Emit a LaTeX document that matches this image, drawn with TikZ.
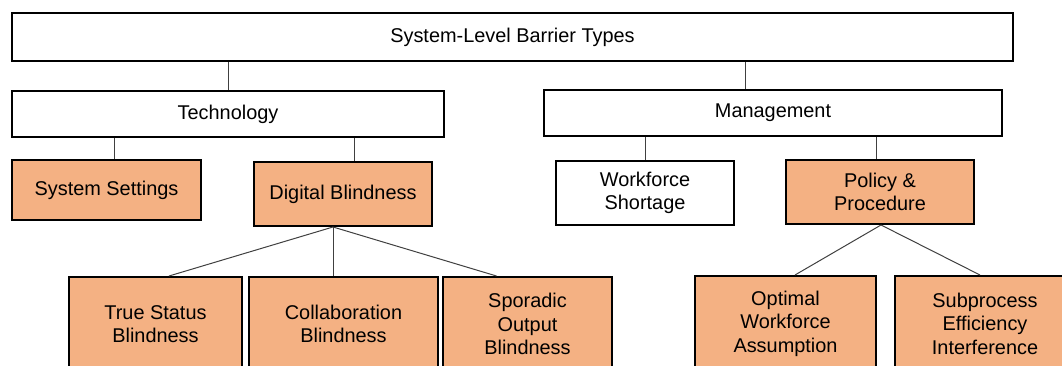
\documentclass[tikz,border=0pt]{standalone}
\usepackage{fontspec}
\setmainfont{Liberation Sans}
\definecolor{peach}{HTML}{F4B183}
\definecolor{linkgray}{HTML}{404040}
\begin{document}
\begin{tikzpicture}[x=1pt,y=-1pt,
  box/.style={draw=black, line width=2pt, fill=white, inner sep=0pt, align=center,
    font=\fontsize{19.9}{23.5}\selectfont, anchor=north west},
  hot/.style={box, fill=peach},
  link/.style={draw=linkgray, line width=1pt}]
\useasboundingbox (0,0) rectangle (1062,366);
\clip (0,0) rectangle (1062,366);
% level 0
\node[box, minimum width=1001pt, minimum height=48pt] (top) at (11,12) {System-Level Barrier Types};
% level 1
\node[box, minimum width=432pt, minimum height=46pt] (tech) at (11,90) {Technology};
\node[box, minimum width=458pt, minimum height=46pt] (mgmt) at (543,89) {Management};
% level 2
\node[hot, minimum width=189pt, minimum height=60pt] (ss) at (11,159) {System Settings};
\node[hot, minimum width=178pt, minimum height=64pt] (db) at (253,161) {Digital Blindness};
\node[box, minimum width=178pt, minimum height=64pt] (ws) at (555,160) {Workforce\\Shortage};
\node[hot, minimum width=188pt, minimum height=64pt] (pp) at (785,159) {Policy \&\\Procedure};
% level 3
\node[hot, minimum width=173pt, minimum height=94pt] (ts) at (68,276) {True Status\\Blindness};
\node[hot, minimum width=189pt, minimum height=94pt] (cb) at (248,276) {Collaboration\\Blindness};
\node[hot, minimum width=169pt, minimum height=94pt] (sp) at (442,276) {Sporadic\\Output\\Blindness};
\node[hot, minimum width=181pt, minimum height=95pt] (ow) at (694,275) {Optimal\\Workforce\\Assumption};
\node[hot, minimum width=180pt, minimum height=95pt] (se) at (894,275) {Subprocess\\Efficiency\\Interference};
% connector anchors
\coordinate (cm) at ([xshift=-28pt]mgmt.north);
\coordinate (css) at ([xshift=7.5pt]ss.north);
\coordinate (cdb) at ([xshift=11pt]db.north);
\coordinate (cpp) at ([xshift=-4pt]pp.north);
\coordinate (dbo) at ([xshift=-10pt]db.south);
\coordinate (ppo) at ([xshift=1pt]pp.south);
% connectors
\draw[link] (tech.north) -- (tech.north |- top.south);
\draw[link] (cm) -- (cm |- top.south);
\draw[link] (css) -- (css |- tech.south);
\draw[link] (cdb) -- (cdb |- tech.south);
\draw[link] (ws.north) -- (ws.north |- mgmt.south);
\draw[link] (cpp) -- (cpp |- mgmt.south);
\draw[link] (dbo) -- ([xshift=13.5pt]ts.north);
\draw[link] (dbo) -- (dbo |- cb.north);
\draw[link] (dbo) -- ([xshift=-31pt]sp.north);
\draw[link] (ppo) -- ([xshift=9.5pt]ow.north);
\draw[link] (ppo) -- ([xshift=-5pt]se.north);
\end{tikzpicture}
\end{document}
